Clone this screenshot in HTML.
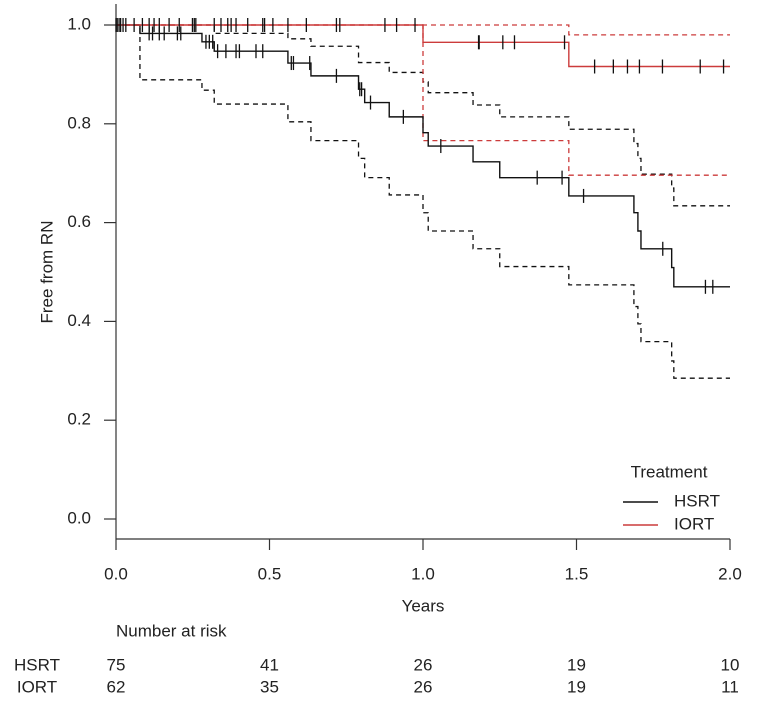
<!DOCTYPE html>
<html><head><meta charset="utf-8"><style>
html,body{margin:0;padding:0;background:#fff;}
svg{display:block;font-family:"Liberation Sans",Arial,sans-serif;}
</style></head><body>
<svg id="chart" width="762" height="713" viewBox="0 0 762 713"></svg>
<script>
const tickValsX = [0, 0.5, 1.0, 1.5, 2.0];
const tickLabelsX = ["0.0","0.5","1.0","1.5","2.0"];
const tickValsY = [0, 0.2, 0.4, 0.6, 0.8, 1.0];
const tickLabelsY = ["0.0","0.2","0.4","0.6","0.8","1.0"];
// HSRT step curve
const hsrtTimes = [0, 0.078, 0.28, 0.32, 0.56, 0.635, 0.79, 0.81, 0.89, 1.0, 1.017, 1.163, 1.25, 1.475, 1.687, 1.70, 1.71, 1.81, 1.817];
const hsrtSurv  = [1.0, 0.983, 0.966, 0.947, 0.923, 0.897, 0.870, 0.843, 0.814, 0.782, 0.755, 0.723, 0.691, 0.654, 0.620, 0.583, 0.547, 0.509, 0.470];
const hsrtLower = [1.0, 0.889, 0.868, 0.840, 0.804, 0.766, 0.730, 0.691, 0.656, 0.620, 0.583, 0.547, 0.511, 0.474, 0.430, 0.395, 0.359, 0.320, 0.285];
const hsrtUpper = [1.0, 1.0, 1.0, 0.983, 0.972, 0.957, 0.924, 0.924, 0.904, 0.885, 0.863, 0.838, 0.814, 0.789, 0.760, 0.730, 0.698, 0.670, 0.634];
const hsrtCensor = [0.108,0.119,0.141,0.157,0.2,0.211,0.293,0.304,0.315,0.331,0.358,0.391,0.402,0.456,0.478,0.571,0.578,0.631,0.718,0.794,0.8,0.829,0.936,1.058,1.372,1.453,1.523,1.781,1.92,1.944];
// IORT step curve
const iortTimes = [0, 1.0, 1.475];
const iortSurv  = [1.0, 0.965, 0.916];
const iortLower = [1.0, 0.766, 0.696];
const iortUpper = [1.0, 1.0, 0.98];
const iortCensor = [0,0.004,0.01,0.015,0.023,0.032,0.059,0.086,0.108,0.124,0.141,0.173,0.206,0.249,0.255,0.26,0.32,0.342,0.364,0.375,0.391,0.429,0.478,0.484,0.511,0.56,0.62,0.718,0.729,0.876,0.914,0.974,1.181,1.183,1.26,1.298,1.461,1.559,1.62,1.666,1.705,1.78,1.903,1.979];
const riskTimes = [0, 0.5, 1.0, 1.5, 2.0];
const riskHSRT = [75, 41, 26, 19, 10];
const riskIORT = [62, 35, 26, 19, 11];

const NS = "http://www.w3.org/2000/svg";
const svg = document.getElementById("chart");
const X0 = 116, X1 = 730, Y1 = 25, Y0 = 519, XMAX = 2.0;
function xs(t){ return X0 + (t / XMAX) * (X1 - X0); }
function ys(s){ return Y0 - s * (Y0 - Y1); }
function el(tag, attrs, parent){
  const e = document.createElementNS(NS, tag);
  for (const k in attrs) e.setAttribute(k, attrs[k]);
  (parent || svg).appendChild(e);
  return e;
}
function text(x, y, str, anchor, size){
  const t = el("text", {x:x, y:y, "text-anchor":anchor, "font-size":size || 17, fill:"#222", "dominant-baseline":"middle"});
  t.textContent = str;
  return t;
}
function stepPath(times, vals, tEnd){
  let d = "M" + xs(times[0]) + "," + ys(vals[0]);
  for (let i = 1; i < times.length; i++){
    d += " H" + xs(times[i]) + " V" + ys(vals[i]);
  }
  d += " H" + xs(tEnd);
  return d;
}
function survAt(times, vals, t){
  let v = vals[0];
  for (let i = 0; i < times.length; i++) if (times[i] <= t) v = vals[i];
  return v;
}

// axes
let a = el("line", {x1:X0, y1:4, x2:X0, y2:539, stroke:"#333", "stroke-width":1.2});


a = el("line", {x1:X0, y1:539, x2:X1, y2:539, stroke:"#333", "stroke-width":1.2});


tickValsY.forEach((v, i) => {
  const tk = el("line", {x1:104, y1:ys(v), x2:X0, y2:ys(v), stroke:"#333", "stroke-width":1.2});
  
  
  const lb = text(91, ys(v), tickLabelsY[i], "end", 17);
  
  
});
tickValsX.forEach((v, i) => {
  const tk = el("line", {x1:xs(v), y1:539, x2:xs(v), y2:550, stroke:"#333", "stroke-width":1.2});
  
  
  const lb = text(xs(v), 575, tickLabelsX[i], "middle", 17);
  
  
});
let t = text(423, 607, "Years", "middle", 17);


t = text(0, 0, "Free from RN", "middle", 17);
t.setAttribute("transform", "translate(48,272) rotate(-90)");



// curves
const RED = "#cc3b3b";
let p = el("path", {d:stepPath(hsrtTimes, hsrtLower, 2.0), fill:"none", stroke:"#111", "stroke-width":1.3, "stroke-dasharray":"5,4"});


p = el("path", {d:stepPath(hsrtTimes, hsrtUpper, 2.0), fill:"none", stroke:"#111", "stroke-width":1.3, "stroke-dasharray":"5,4"});


p = el("path", {d:stepPath(iortTimes, iortLower, 2.0), fill:"none", stroke:RED, "stroke-width":1.3, "stroke-dasharray":"5,4"});


p = el("path", {d:stepPath(iortTimes, iortUpper, 2.0), fill:"none", stroke:RED, "stroke-width":1.3, "stroke-dasharray":"5,4"});


p = el("path", {d:stepPath(hsrtTimes, hsrtSurv, 2.0), fill:"none", stroke:"#111", "stroke-width":1.4});


p = el("path", {d:stepPath(iortTimes, iortSurv, 2.0), fill:"none", stroke:RED, "stroke-width":1.4});



// censor marks
hsrtCensor.forEach(c => {
  const y = ys(survAt(hsrtTimes, hsrtSurv, c));
  const m = el("line", {x1:xs(c), y1:y-7, x2:xs(c), y2:y+7, stroke:"#111", "stroke-width":1.3});
  
  
});
iortCensor.forEach(c => {
  const y = ys(survAt(iortTimes, iortSurv, c));
  const m = el("line", {x1:xs(c), y1:y-7, x2:xs(c), y2:y+7, stroke:"#111", "stroke-width":1.3});
  
  
});

// legend
t = text(669, 473, "Treatment", "middle", 17);


let l = el("line", {x1:623, y1:502, x2:658, y2:502, stroke:"#111", "stroke-width":1.4});


t = text(674, 502, "HSRT", "start", 17);


l = el("line", {x1:623, y1:525, x2:658, y2:525, stroke:RED, "stroke-width":1.4});


t = text(674, 525, "IORT", "start", 17);



// risk table
t = text(116, 632, "Number at risk", "start", 17);


t = text(37, 666, "HSRT", "middle", 17);


t = text(37, 688, "IORT", "middle", 17);


riskTimes.forEach((rt, i) => {
  let r = text(xs(rt), 666, String(riskHSRT[i]), "middle", 17);
  
  
  r = text(xs(rt), 688, String(riskIORT[i]), "middle", 17);
  
  
});
</script>
</body></html>
